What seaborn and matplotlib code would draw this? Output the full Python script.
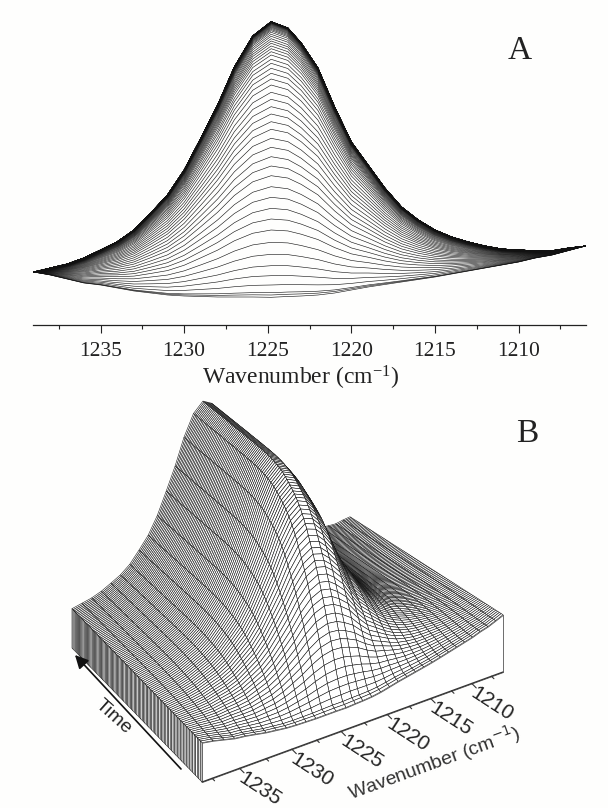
import numpy as np
import pandas as pd
import seaborn as sns
import matplotlib.pyplot as plt
from matplotlib.collections import PolyCollection
from matplotlib.ticker import MultipleLocator

# wavenumber grid (cm-1)
wavenumbers = [1239, 1238, 1237, 1236, 1235, 1234, 1233, 1232, 1231, 1230, 1229, 1228, 1227,
               1225.9, 1224.8, 1223.8, 1223, 1222, 1221, 1220, 1219, 1218, 1217, 1216, 1215,
               1214, 1213, 1212, 1211, 1210, 1209, 1208, 1207, 1206]
# first and last spectrum (arbitrary absorbance)
first_spectrum = [28, 25, 21, 17, 15, 12, 9, 7, 5, 4, 3.5, 3, 3,
                  3, 2.7, 3.5, 4, 5, 7, 10, 13, 15.5, 18, 20.5, 23,
                  26, 29, 32, 35, 38, 42, 45, 49.5, 54]
last_spectrum = [28, 32, 36, 42, 50, 58.3, 70, 87, 105, 130, 162, 195, 233,
                 264, 278.3, 272, 257, 232, 193, 158, 135, 112, 93, 80, 70,
                 63, 58, 54, 51, 50, 49.3, 49.3, 52, 54]
# height of the band maximum for each spectrum in time order
peak_heights = [2.7, 5, 7.3, 15, 24.3, 34.3, 45.7, 57.7, 70, 81,
                91.7, 102.7, 113.3, 124.3, 134, 143.3, 152.7, 161.7, 170.7, 178.3,
                186, 193.3, 200.7, 207.7, 215, 221, 226.7, 231.7, 236.7, 240.7,
                245, 248.3, 251.3, 254, 256.7, 259, 261.3, 263.7, 265.7, 267.7,
                269.3, 270.5, 271.6, 272.6, 273.4, 274.2, 274.9, 275.5, 276, 276.4,
                276.8, 277.1, 277.3, 277.5, 277.6, 277.7, 277.8, 277.8, 277.9, 277.9,
                278, 278, 278, 278, 278.1, 278.1, 278.1, 278.1, 278.1, 278.2,
                278.2, 278.2, 278.2, 278.2, 278.2, 278.2, 278.2, 278.2, 278.2, 278.3,
                278.3, 278.3, 278.3, 278.3, 278.3, 278.3, 278.3, 278.3, 278.3, 278.3,
                278.3, 278.3, 278.3, 278.3, 278.3, 278.3, 278.3, 278.3, 278.3, 278.3]
tick_labels_a = [1235, 1230, 1225, 1220, 1215, 1210]

sns.set_theme(style='white')
plt.rcParams['font.family'] = ['Liberation Serif', 'DejaVu Sans']
plt.rcParams['mathtext.fontset'] = 'custom'
plt.rcParams['mathtext.rm'] = 'Liberation Serif'
plt.rcParams['mathtext.default'] = 'rm'
SANS = 'Liberation Sans'
BG = '#fefefd'

wn = np.array(wavenumbers)
first = np.array(first_spectrum)
last = np.array(last_spectrum)
peak = np.array(peak_heights)
frac = (peak - peak[0]) / (peak[-1] - peak[0])
Z = first + frac[:, None] * (last - first)

df = pd.DataFrame({
    'wavenumber': np.tile(wn, len(peak)),
    'absorbance': Z.ravel(),
    'time': np.repeat(np.arange(len(peak)), len(wn)),
})

fig = plt.figure(figsize=(6.08, 8.08), dpi=100, facecolor=BG)

# Panel A
ax = fig.add_axes([33 / 608, 483 / 808, 553 / 608, 320 / 808], facecolor='none')
sns.lineplot(data=df, x='wavenumber', y='absorbance', units='time', estimator=None,
             color='#111111', lw=0.42, ax=ax, legend=False)
ax.set_xlim(1239.04, 1205.97)
ax.set_ylim(-25, 295)
for s in ['top', 'left', 'right']:
    ax.spines[s].set_visible(False)
ax.spines['bottom'].set_color('#222222')
ax.spines['bottom'].set_linewidth(0.9)
ax.set_yticks([])
ax.set_ylabel('')
ax.set_xticks(tick_labels_a)
ax.xaxis.set_minor_locator(MultipleLocator(2.5))
ax.tick_params(axis='x', which='major', bottom=True, length=5.4, width=0.8, color='#222222',
               labelsize=15.5, pad=6.5, labelcolor='#222222')
ax.tick_params(axis='x', which='minor', bottom=True, length=2.6, width=0.8, color='#222222')
ax.set_xlabel(r'Wavenumber (cm$^{-1}$)', fontsize=17, color='#222222')
ax.xaxis.set_label_coords(0.483, -0.122)

# Panel B: projected by hand onto a full figure axes in pixel coordinates
ax3 = fig.add_axes([0, 0, 1, 1], facecolor='none')
ax3.set_xlim(0, 608)
ax3.set_ylim(808, 0)
ax3.axis('off')

src = [(0, 0), (1, 0), (0, 1), (1, 1)]
dst = [(202, 782), (503, 672), (72, 648), (350, 574)]
A = []
b = []
for (u, v), (px, py) in zip(src, dst):
    A.append([u, v, 1, 0, 0, 0, -u * px, -v * px])
    A.append([0, 0, 0, u, v, 1, -u * py, -v * py])
    b += [px, py]
h = np.linalg.solve(np.array(A, float), np.array(b, float))


def ground(u, v):
    w = h[6] * u + h[7] * v + 1
    return (h[0] * u + h[1] * v + h[2]) / w, (h[3] * u + h[4] * v + h[5]) / w


n_t, n_w = Z.shape
U, V = np.meshgrid((1239 - wn) / 33.0, np.arange(n_t) / (n_t - 1))
GX, GY = ground(U, V)
SY = GY - (20 + 0.69 * Z)

quads = []
for i in range(n_t - 2, -1, -1):
    for j in range(n_w - 2, -1, -1):
        quads.append([(GX[i, j], SY[i, j]), (GX[i, j + 1], SY[i, j + 1]),
                      (GX[i + 1, j + 1], SY[i + 1, j + 1]), (GX[i + 1, j], SY[i + 1, j])])
for i in range(n_t - 2, -1, -1):
    quads.append([(GX[i, 0], SY[i, 0]), (GX[i + 1, 0], SY[i + 1, 0]),
                  (GX[i + 1, 0], GY[i + 1, 0]), (GX[i, 0], GY[i, 0])])
ax3.add_collection(PolyCollection(quads, facecolors='white', edgecolors='#111111', linewidths=0.38))

front = list(zip(GX[0], SY[0])) + list(zip(GX[0][::-1], GY[0][::-1]))
ax3.add_collection(PolyCollection([front], facecolors='white', edgecolors='#555555', linewidths=0.6))
ax3.plot(GX[0], GY[0], color='#333333', lw=0.9)

# the drawn axis starts a little inside the block corner
for w in np.arange(1237.5, 1206, -2.5):
    tx, ty = ground((1238.4 - w) / 32.4, 0)
    major = w % 5 == 0
    d = 4.5 if major else 2.5
    ax3.plot([tx, tx + d], [ty, ty + d], color='#333333', lw=0.8)
    if major:
        ax3.text(tx + 1, ty + 8, str(int(w)), fontsize=15, family=SANS, color='#222222',
                 rotation=-33, rotation_mode='anchor', ha='left', va='center')

ax3.text(434, 763, 'Wavenumber (cm$^{-1}$)', fontsize=14, family=SANS, color='#333333',
         rotation=20, rotation_mode='anchor', ha='center', va='center',
         math_fontfamily='dejavusans')
ax3.text(113, 717, 'Time', fontsize=14, family=SANS, color='#222222',
         rotation=-42, rotation_mode='anchor', ha='center', va='center')
ax3.annotate('', xy=(75, 655), xytext=(181, 769),
             arrowprops=dict(arrowstyle='-|>', color='#111111', lw=1.2, mutation_scale=20,
                             shrinkA=0, shrinkB=0))
ax3.text(520, 51, 'A', fontsize=24, color='#222222', ha='center', va='center')
ax3.text(527, 434, 'B', fontsize=24, color='#222222', ha='center', va='center')

fig.savefig('out.png', dpi=100, facecolor=BG)
